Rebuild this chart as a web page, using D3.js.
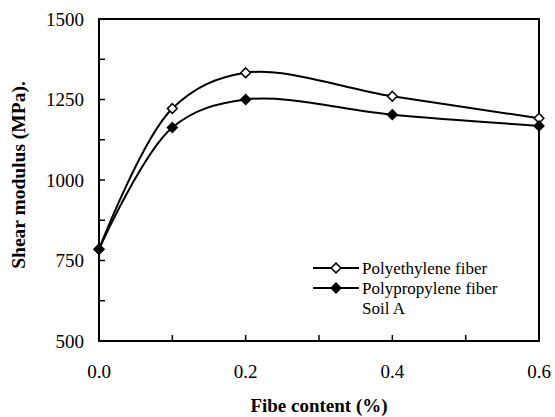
<!DOCTYPE html>
<html>
<head>
<meta charset="utf-8">
<script src="https://cdn.jsdelivr.net/npm/d3@7"></script>
<style>
  body { margin: 0; background: #fff; }
</style>
</head>
<body>
<div id="chart"></div>
<script>
const fiberContent = [0.0, 0.1, 0.2, 0.4, 0.6];
const polyethylene = [785, 1222, 1333, 1260, 1192];
const polypropylene = [785, 1163, 1250, 1203, 1168];
const xTicks = [0.0, 0.1, 0.2, 0.3, 0.4, 0.5, 0.6];
const xLabels = [0.0, 0.2, 0.4, 0.6];
const yTicks = [500, 625, 750, 875, 1000, 1125, 1250, 1375, 1500];
const yLabels = [500, 750, 1000, 1250, 1500];

const margin = { top: 19, right: 16, bottom: 76, left: 99 },
  W = 555,
  H = 417,
  width = W - margin.left - margin.right,
  height = H - margin.top - margin.bottom,
  serif = "Liberation Serif";

const x = d3.scaleLinear().domain([0, 0.6]).range([0, width]);
const y = d3.scaleLinear().domain([500, 1500]).range([height, 0]);

const svg = d3
  .select("#chart")
  .append("svg")
  .attr("width", W)
  .attr("height", H);

const g = svg
  .append("g")
  .attr("transform", "translate(" + margin.left + "," + margin.top + ")");

// frame
g.append("rect")
  .attr("width", width)
  .attr("height", height)
  .attr("fill", "none")
  .attr("stroke", "#000")
  .attr("stroke-width", 2);

// inside ticks
g.selectAll(".xtick")
  .data(xTicks)
  .enter()
  .append("line")
  .attr("x1", d => x(d))
  .attr("x2", d => x(d))
  .attr("y1", height)
  .attr("y2", height - 6)
  .attr("stroke", "#000")
  .attr("stroke-width", 1.5);

g.selectAll(".ytick")
  .data(yTicks)
  .enter()
  .append("line")
  .attr("x1", 0)
  .attr("x2", 6)
  .attr("y1", d => y(d))
  .attr("y2", d => y(d))
  .attr("stroke", "#000")
  .attr("stroke-width", 1.5);

g.selectAll(".xlabel")
  .data(xLabels)
  .enter()
  .append("text")
  .attr("font-family", serif)
  .attr("x", d => x(d))
  .attr("y", height + 37)
  .attr("text-anchor", "middle")
  .style("font-size", "19px")
  .text(d => d.toFixed(1));

g.selectAll(".ylabel")
  .data(yLabels)
  .enter()
  .append("text")
  .attr("font-family", serif)
  .attr("x", -15)
  .attr("y", d => y(d))
  .attr("dy", "0.35em")
  .attr("text-anchor", "end")
  .style("font-size", "19px")
  .text(d => d);

// axis titles
svg.append("text")
  .attr("font-family", serif)
  .attr("x", margin.left + width / 2)
  .attr("y", 412)
  .attr("text-anchor", "middle")
  .style("font-size", "19px")
  .style("font-weight", "bold")
  .text("Fibe content (%)");

svg.append("text")
  .attr("font-family", serif)
  .attr("transform", "translate(25,175) rotate(-90)")
  .attr("text-anchor", "middle")
  .style("font-size", "19.5px")
  .style("font-weight", "bold")
  .text("Shear modulus (MPa).");

const line = d3
  .line()
  .x(d => x(d[0]))
  .y(d => y(d[1]))
  .curve(d3.curveCatmullRom.alpha(0.5));

const series = [
  { name: "Polyethylene fiber", values: polyethylene, fill: "#fff" },
  { name: "Polypropylene fiber", values: polypropylene, fill: "#000" }
];

const diamond = d3.symbol().type(d3.symbolDiamond2).size(60);

series.forEach(s => {
  const pts = fiberContent.map((c, i) => [c, s.values[i]]);
  g.append("path")
    .datum(pts)
    .attr("d", line)
    .attr("fill", "none")
    .attr("stroke", "#000")
    .attr("stroke-width", 2);
  g.selectAll(null)
    .data(pts)
    .enter()
    .append("path")
    .attr("d", diamond)
    .attr("transform", d => "translate(" + x(d[0]) + "," + y(d[1]) + ")")
    .attr("fill", s.fill)
    .attr("stroke", "#000")
    .attr("stroke-width", 1.5);
});

// legend
const legend = svg.append("g").attr("transform", "translate(313,268)");
series.forEach((s, i) => {
  const row = legend.append("g").attr("transform", "translate(0," + i * 20 + ")");
  row.append("line")
    .attr("x1", 0)
    .attr("x2", 46)
    .attr("stroke", "#000")
    .attr("stroke-width", 2);
  row.append("path")
    .attr("d", diamond)
    .attr("transform", "translate(23,0)")
    .attr("fill", s.fill)
    .attr("stroke", "#000")
    .attr("stroke-width", 1.5);
  row.append("text")
    .attr("font-family", serif)
    .attr("x", 49)
    .attr("dy", "0.35em")
    .style("font-size", "17px")
    .text(s.name);
});
legend.append("text")
  .attr("font-family", serif)
  .attr("x", 49)
  .attr("y", 46)
  .style("font-size", "17px")
  .text("Soil A");
</script>
</body>
</html>
